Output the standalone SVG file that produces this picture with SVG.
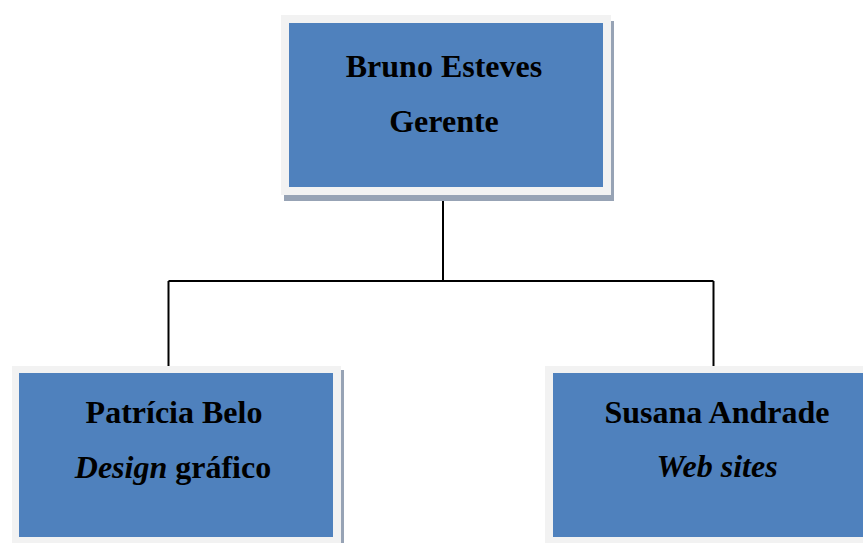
<svg xmlns="http://www.w3.org/2000/svg" width="863" height="543" viewBox="0 0 863 543">
<style>
.shadow{fill:#97a3b5}
.frame{fill:#f2f2f2}
.box{fill:#4f81bd}
.t{font-family:"Liberation Serif","Times New Roman",serif;font-size:32px;font-weight:bold;fill:#000;text-anchor:middle}
.i{font-style:italic}
.conn{stroke:#000;stroke-width:2;fill:none}
</style>
<rect width="863" height="543" fill="#fff"/>
<g id="connectors">
<path class="conn" d="M443 197 V281"/>
<path class="conn" d="M168.5 281 H713.5"/>
<path class="conn" d="M168.5 281 V367"/>
<path class="conn" d="M713.5 281 V367"/>
</g>
<g id="bruno">
<rect class="shadow" x="284" y="21" width="330" height="180"/>
<rect class="frame" x="281" y="15" width="330" height="180"/>
<rect class="box" x="289" y="23" width="314" height="164"/>
<text class="t" x="444" y="77">Bruno Esteves</text>
<text class="t" x="444" y="132">Gerente</text>
</g>
<g id="patricia">
<rect class="shadow" x="15" y="370" width="329" height="180"/>
<rect class="frame" x="12" y="366" width="329" height="180"/>
<rect class="box" x="19" y="373" width="314" height="164"/>
<text class="t" x="174" y="423">Patrícia Belo</text>
<text class="t" x="173" y="478"><tspan class="i">Design</tspan> gráfico</text>
</g>
<g id="susana">
<rect class="shadow" x="548" y="370" width="340" height="180"/>
<rect class="frame" x="545" y="366" width="340" height="180"/>
<rect class="box" x="553" y="373" width="324" height="164"/>
<text class="t" x="717" y="423">Susana Andrade</text>
<text class="t i" x="717" y="477">Web sites</text>
</g>
</svg>
